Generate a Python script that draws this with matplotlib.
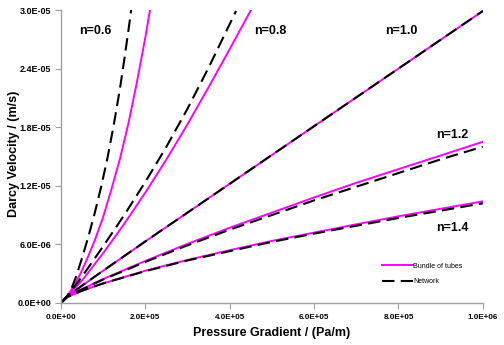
import matplotlib
matplotlib.use('Agg')
import matplotlib.pyplot as plt
from matplotlib.ticker import FuncFormatter

plt.rcParams['font.family'] = ['Liberation Sans', 'DejaVu Sans']

# pressure gradient (Pa/m) and Darcy velocity (m/s)
tubes_06_x = [0, 1.5e4, 3e4, 4.5e4, 6e4, 8e4, 1e5, 1.2e5, 1.4e5, 1.6e5, 1.8e5, 2.0e5, 2.11e5]
tubes_06_y = [0, 7e-7, 1.7e-6, 2.9e-6, 4.3e-6, 6.4e-6, 8.8e-6, 1.17e-5, 1.48e-5,
              1.84e-5, 2.26e-5, 2.72e-5, 3.0e-5]
net_06_x = [0, 1.5e4, 2.5e4, 3.5e4, 5e4, 6.5e4, 8e4, 9.5e4, 1.1e5, 1.25e5, 1.4e5, 1.52e5,
            1.64e5, 1.67e5]
net_06_y = [0, 7e-7, 1.5e-6, 2.6e-6, 4.6e-6, 6.8e-6, 9.2e-6, 1.185e-5, 1.48e-5, 1.82e-5,
            2.2e-5, 2.55e-5, 2.92e-5, 3.02e-5]

tubes_08_x = [0, 1.5e4, 5e4, 1e5, 1.5e5, 2e5, 2.5e5, 3e5, 3.5e5, 4e5, 4.53e5]
tubes_08_y = [0, 7e-7, 2.3e-6, 5.1e-6, 8.1e-6, 1.13e-5, 1.47e-5, 1.83e-5, 2.21e-5,
              2.6e-5, 3.02e-5]
net_08_x = [0, 1.5e4, 5e4, 1e5, 1.5e5, 2e5, 2.5e5, 3e5, 3.5e5, 4.15e5]
net_08_y = [0, 7e-7, 2.7e-6, 5.8e-6, 9.0e-6, 1.24e-5, 1.6e-5, 1.99e-5, 2.41e-5, 2.99e-5]

tubes_10_x = [0, 1.5e4, 1e5, 2e5, 4e5, 6e5, 8e5, 1e6]
tubes_10_y = [0, 7e-7, 3.3e-6, 6.3e-6, 1.22e-5, 1.81e-5, 2.4e-5, 2.99e-5]
net_10_x = [0, 1.5e4, 1e5, 2e5, 4e5, 6e5, 8e5, 1e6]
net_10_y = [0, 7e-7, 3.3e-6, 6.3e-6, 1.22e-5, 1.81e-5, 2.4e-5, 2.99e-5]

grad = [0, 1.5e4, 5e4, 1e5, 2e5, 3e5, 4e5, 5e5, 6e5, 7e5, 8e5, 9e5, 1e6]
tubes_12_y = [0, 6.5e-7, 1.4e-6, 2.45e-6, 4.3e-6, 6.05e-6, 7.7e-6, 9.25e-6,
              1.08e-5, 1.23e-5, 1.37e-5, 1.51e-5, 1.65e-5]
net_12_y = [0, 6.5e-7, 1.4e-6, 2.4e-6, 4.2e-6, 5.9e-6, 7.5e-6, 9.0e-6,
            1.05e-5, 1.19e-5, 1.33e-5, 1.47e-5, 1.60e-5]
tubes_14_y = [0, 6e-7, 1.25e-6, 2.0e-6, 3.3e-6, 4.4e-6, 5.4e-6, 6.35e-6,
              7.2e-6, 8.05e-6, 8.87e-6, 9.64e-6, 1.04e-5]
net_14_y = [0, 6e-7, 1.25e-6, 2.0e-6, 3.25e-6, 4.35e-6, 5.3e-6, 6.25e-6,
            7.1e-6, 7.9e-6, 8.7e-6, 9.45e-6, 1.02e-5]

labels = ['n=0.6', 'n=0.8', 'n=1.0', 'n=1.2', 'n=1.4']

fig = plt.figure(figsize=(5.04, 3.45), dpi=100)
ax = fig.add_axes([0.121, 0.122, 0.837, 0.849])

pink = dict(color='#ff00ff', lw=1.4)
dash = dict(color='black', lw=1.5, dashes=(6, 3))

tubes = [(tubes_06_x, tubes_06_y), (tubes_08_x, tubes_08_y), (tubes_10_x, tubes_10_y),
         (grad, tubes_12_y), (grad, tubes_14_y)]
nets = [(net_06_x, net_06_y), (net_08_x, net_08_y), (net_10_x, net_10_y),
        (grad, net_12_y), (grad, net_14_y)]

for i, (x, y) in enumerate(tubes):
    ax.plot(x, y, label='Bundle of tubes' if i == 0 else None, **pink)
for i, (x, y) in enumerate(nets):
    ax.plot(x, y, label='Network' if i == 0 else None, **dash)

# curve labels
label_pos = [(8.06e4, 2.79e-5), (4.95e5, 2.79e-5), (8.06e5, 2.79e-5),
             (9.27e5, 1.72e-5), (9.27e5, 7.7e-6)]
for txt, (lx, ly) in zip(labels, label_pos):
    ax.text(lx, ly, txt, ha='center', va='center', fontsize=9, fontweight='bold')

ax.set_xlim(0, 1e6)
ax.set_ylim(0, 3e-5)
ax.set_xticks([0, 2e5, 4e5, 6e5, 8e5, 1e6])
ax.set_yticks([0, 6e-6, 1.2e-5, 1.8e-5, 2.4e-5, 3e-5])
fmt = FuncFormatter(lambda v, p: '%.1E' % v)
ax.xaxis.set_major_formatter(fmt)
ax.yaxis.set_major_formatter(fmt)

for s in ['top', 'right']:
    ax.spines[s].set_visible(False)
for s in ['left', 'bottom']:
    ax.spines[s].set_color('#a0a0a0')
    ax.spines[s].set_linewidth(1.0)
ax.tick_params(direction='out', length=4, color='#a0a0a0', pad=3)
ax.tick_params(axis='y', labelsize=6.5)
ax.tick_params(axis='x', labelsize=5.8, pad=4)
for t in ax.get_xticklabels() + ax.get_yticklabels():
    t.set_fontweight('bold')

ax.set_xlabel('Pressure Gradient / (Pa/m)', fontsize=9, fontweight='bold', labelpad=4)
ax.set_ylabel('Darcy Velocity / (m/s)', fontsize=9, fontweight='bold')
ax.yaxis.set_label_coords(-0.097, 0.508)

ax.legend(loc='lower left', bbox_to_anchor=(0.745, 0.04), frameon=False, fontsize=5,
          handlelength=4.5, handletextpad=0.1, labelspacing=1.2)

fig.savefig('out.png', dpi=100)
